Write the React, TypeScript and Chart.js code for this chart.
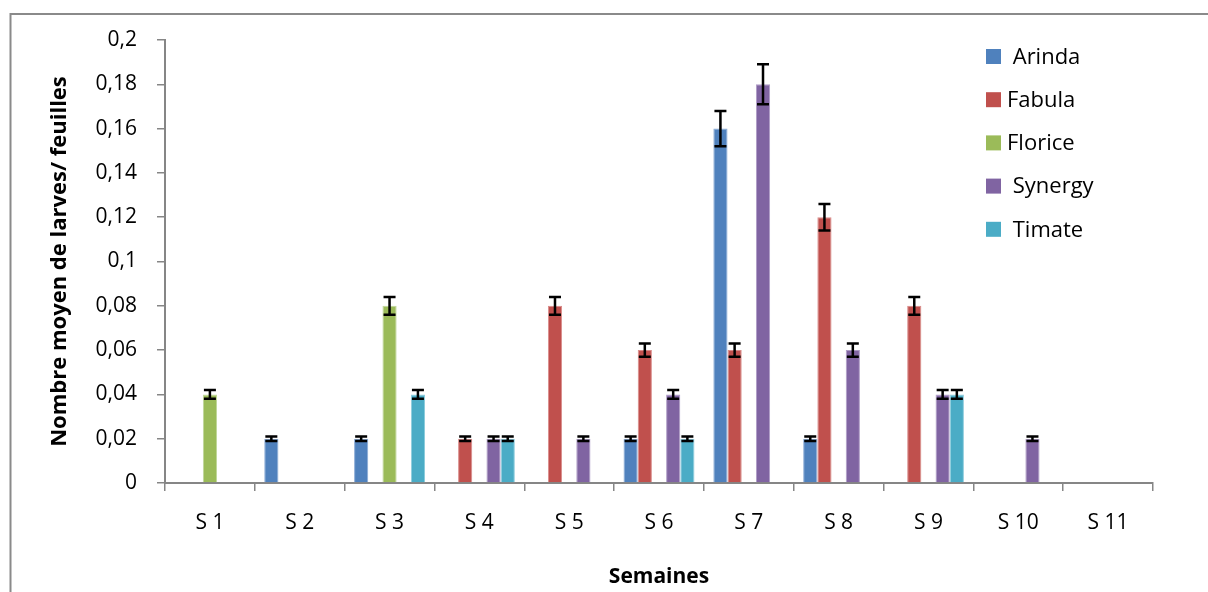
import React, { useEffect, useRef } from "react";
import { Chart, registerables } from "chart.js";

Chart.register(...registerables);

const categories = ["S 1", "S 2", "S 3", "S 4", "S 5", "S 6", "S 7", "S 8", "S 9", "S 10", "S 11"];
const seriesNames = [" Arinda", "Fabula", "Florice", " Synergy", " Timate"];
const seriesColors = ["#4F81BD", "#C0504D", "#9BBB59", "#8064A2", "#4BACC6"];
const seriesBorders = ["#8AABD6", "#D98C8A", "#C0D79A", "#AE9CC6", "#8DCDDD"];

const arinda = [null, 0.02, 0.02, null, null, 0.02, 0.16, 0.02, null, null, null];
const fabula = [null, null, null, 0.02, 0.08, 0.06, 0.06, 0.12, 0.08, null, null];
const florice = [0.04, null, 0.08, null, null, null, null, null, null, null, null];
const synergy = [null, null, null, 0.02, 0.02, 0.04, 0.18, 0.06, 0.04, 0.02, null];
const timate = [null, null, 0.04, 0.02, null, 0.02, null, null, 0.04, null, null];

const arindaErr = [null, 0.001, 0.001, null, null, 0.001, 0.008, 0.001, null, null, null];
const fabulaErr = [null, null, null, 0.001, 0.004, 0.003, 0.003, 0.006, 0.004, null, null];
const floriceErr = [0.002, null, 0.004, null, null, null, null, null, null, null, null];
const synergyErr = [null, null, null, 0.001, 0.001, 0.002, 0.009, 0.003, 0.002, 0.001, null];
const timateErr = [null, null, 0.002, 0.001, null, 0.001, null, null, 0.002, null, null];

const seriesValues = [arinda, fabula, florice, synergy, timate];
const seriesErrors = [arindaErr, fabulaErr, floriceErr, synergyErr, timateErr];

const yTickLabels = ["0", "0,02", "0,04", "0,06", "0,08", "0,1", "0,12", "0,14", "0,16", "0,18", "0,2"];

const FONT = "'Open Sans', 'Liberation Sans', sans-serif";

const framePlugin = {
  id: "frame",
  beforeDraw(chart: any) {
    const ctx = chart.ctx;
    ctx.save();
    ctx.strokeStyle = "#8A8A8A";
    ctx.lineWidth = 2;
    ctx.beginPath();
    ctx.moveTo(10.5, chart.height);
    ctx.lineTo(10.5, 14);
    ctx.lineTo(chart.width, 14);
    ctx.stroke();
    ctx.restore();
  },
};

const errorBarPlugin = {
  id: "errorBars",
  afterDatasetsDraw(chart: any) {
    const ctx = chart.ctx;
    const yScale = chart.scales.y;
    ctx.save();
    ctx.strokeStyle = "#000";
    ctx.lineWidth = 2.5;
    chart.data.datasets.forEach((ds: any, di: number) => {
      const meta = chart.getDatasetMeta(di);
      const errs = seriesErrors[di];
      meta.data.forEach((bar: any, i: number) => {
        const v = ds.data[i];
        const e = errs[i];
        if (v == null || e == null) return;
        const x = bar.x;
        const yTop = yScale.getPixelForValue(v + e);
        const yBot = yScale.getPixelForValue(v - e);
        const cap = 6;
        ctx.beginPath();
        ctx.moveTo(x, yTop);
        ctx.lineTo(x, yBot);
        ctx.moveTo(x - cap, yTop);
        ctx.lineTo(x + cap, yTop);
        ctx.moveTo(x - cap, yBot);
        ctx.lineTo(x + cap, yBot);
        ctx.stroke();
      });
    });
    ctx.restore();
  },
};

const legendPlugin = {
  id: "customLegend",
  afterDraw(chart: any) {
    const ctx = chart.ctx;
    ctx.save();
    ctx.font = `22px ${FONT}`;
    ctx.textBaseline = "middle";
    ctx.textAlign = "left";
    chart.data.datasets.forEach((ds: any, i: number) => {
      const cy = 56.5 + i * 43.2;
      ctx.fillStyle = ds.backgroundColor;
      ctx.fillRect(986, cy - 7.5, 15, 15);
      ctx.fillStyle = "#000";
      ctx.fillText(ds.label, 1007, cy + 1);
    });
    ctx.restore();
  },
};

export default function App() {
  const ref = useRef<HTMLCanvasElement | null>(null);

  useEffect(() => {
    if (!ref.current) return;
    const chart = new Chart(ref.current, {
      type: "bar",
      data: {
        labels: categories,
        datasets: seriesNames.map((name, i) => ({
          label: name,
          data: seriesValues[i],
          backgroundColor: seriesColors[i],
          borderColor: seriesBorders[i],
          borderWidth: 1,
          categoryPercentage: 0.79,
          barPercentage: 1,
        })),
      },
      options: {
        responsive: false,
        animation: false,
        layout: { padding: { left: 0, top: 40, right: 55, bottom: 0 } },
        plugins: {
          legend: { display: false },
          tooltip: { enabled: false },
        },
        scales: {
          x: {
            grid: {
              offset: true,
              drawOnChartArea: false,
              drawTicks: true,
              tickLength: 8,
              color: "#868686",
              lineWidth: 1.5,
            },
            border: { color: "#868686", width: 2 },
            ticks: {
              color: "#000",
              font: { family: FONT, size: 21 },
              padding: 19,
            },
            title: {
              display: true,
              text: "Semaines",
              color: "#000",
              font: { family: FONT, size: 21, weight: "bold" },
              padding: { top: 0, bottom: 2 },
            },
            afterFit(scale: any) {
              scale.height = 109;
            },
          },
          y: {
            min: 0,
            max: 0.2,
            ticks: {
              stepSize: 0.02,
              color: "#000",
              font: { family: FONT, size: 21 },
              padding: 20,
              callback: (_v: any, idx: number) => yTickLabels[idx],
            },
            grid: {
              drawOnChartArea: false,
              drawTicks: true,
              tickLength: 8,
              color: "#868686",
              lineWidth: 1.5,
            },
            border: { color: "#868686", width: 2 },
            title: {
              display: true,
              text: "Nombre moyen de larves/ feuilles",
              color: "#000",
              font: { family: FONT, size: 22, weight: "bold" },
              padding: { top: 47, bottom: 0 },
            },
            afterFit(scale: any) {
              scale.width = 165;
            },
          },
        },
      },
      plugins: [framePlugin, errorBarPlugin, legendPlugin],
    } as any);
    return () => chart.destroy();
  }, []);

  return (
    <div style={{ position: "absolute", left: 0, top: 0, width: 1208, height: 592, background: "#fff" }}>
      <canvas ref={ref} width={1208} height={592} style={{ display: "block" }} />
    </div>
  );
}
